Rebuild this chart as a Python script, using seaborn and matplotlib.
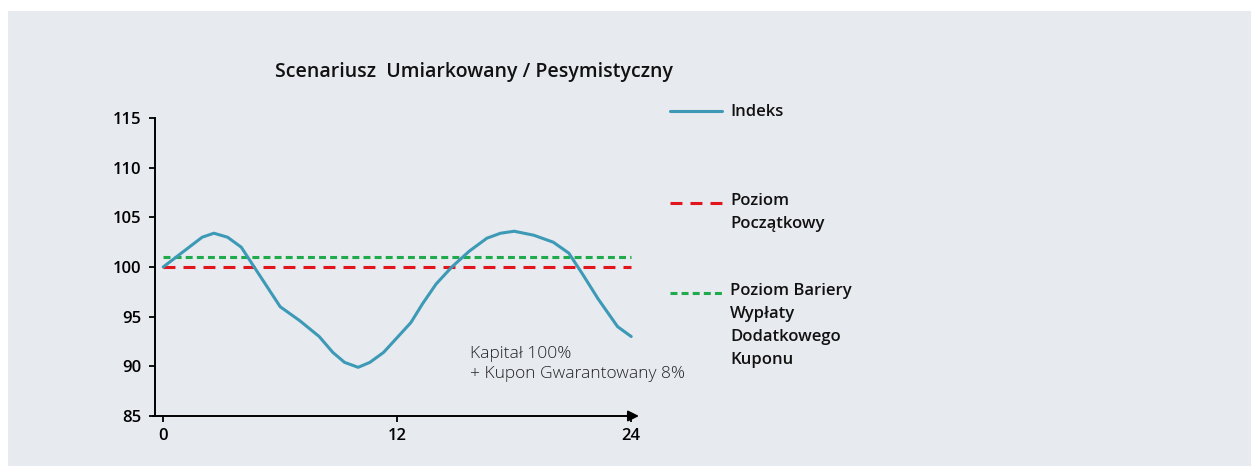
import matplotlib
matplotlib.use("Agg")
import matplotlib.pyplot as plt
from matplotlib.lines import Line2D
from matplotlib.patches import Rectangle
import seaborn as sns
import pandas as pd

# ---- data ----
months = [0, 1, 2, 2.6, 3.3, 4, 5, 6, 7, 8, 8.7, 9.3, 10, 10.6, 11.3, 12,
          12.7, 13.3, 14, 14.8, 15.7, 16.6, 17.3, 18, 19, 20, 20.8, 21.5,
          22.3, 23.3, 24]
index_values = [100, 101.5, 103, 103.4, 103, 102, 99, 96, 94.6, 93, 91.4,
                90.4, 89.9, 90.4, 91.4, 92.9, 94.4, 96.3, 98.3, 100, 101.6,
                102.9, 103.4, 103.6, 103.2, 102.5, 101.4, 99.3, 96.8, 94, 93]
level_x = [0, 24]
initial_level = [100, 100]
barrier_level = [101, 101]
x_ticks = [0, 12, 24]
y_ticks = [85, 90, 95, 100, 105, 110, 115]
title = "Scenariusz  Umiarkowany / Pesymistyczny"
legend_labels = ["Indeks", "Poziom\nPoczątkowy",
                 "Poziom Bariery\nWypłaty\nDodatkowego\nKuponu"]
note = "Kapitał 100%\n+ Kupon Gwarantowany 8%"

# ---- style ----
sns.set_theme(style="white")
plt.rcParams["font.family"] = ["Open Sans", "DejaVu Sans"]
plt.rcParams["lines.scale_dashes"] = False

BG = "#e7eaef"
TEAL = "#3d9ab6"
RED = "#e3151c"
GREEN = "#1faa4b"
W, H = 1251, 466

fig = plt.figure(figsize=(W / 100, H / 100), dpi=100)
fig.patch.set_facecolor("white")
fig.patches.append(Rectangle((8 / W, 0), 1 - 8 / W, 1 - 11 / H,
                             transform=fig.transFigure, facecolor=BG,
                             edgecolor="none", zorder=-10))

ax = fig.add_axes([155 / W, 1 - 416 / H, 484 / W, (416 - 118) / H])
ax.set_facecolor("none")

df = pd.DataFrame({"m": months, "v": index_values})
lv = pd.DataFrame({"m": level_x, "init": initial_level, "bar": barrier_level})

sns.lineplot(data=lv, x="m", y="init", ax=ax, color=RED, linewidth=2.2,
             zorder=2)
ax.lines[-1].set_dashes((8.6, 5.8))
sns.lineplot(data=lv, x="m", y="bar", ax=ax, color=GREEN, linewidth=2.2,
             zorder=2)
ax.lines[-1].set_dashes((5.0, 3.0))
sns.lineplot(data=df, x="m", y="v", ax=ax, color=TEAL, linewidth=2.2,
             zorder=3)

ax.set_xlim(-0.42, 24.4)
ax.set_ylim(85, 115)
ax.set_xticks(x_ticks)
ax.set_yticks(y_ticks)
ax.set_xlabel("")
ax.set_ylabel("")
for s in ["top", "right", "bottom"]:
    ax.spines[s].set_visible(False)
ax.spines["left"].set_linewidth(1.4)
ax.spines["left"].set_color("black")
ax.tick_params(axis="y", direction="out", length=4, width=1.3, pad=6,
               labelsize=12, colors="black", left=True)
ax.tick_params(axis="x", direction="out", length=4, width=1.3, pad=5,
               labelsize=12, colors="black", bottom=True)
for lab in ax.get_xticklabels() + ax.get_yticklabels():
    lab.set_fontweight("semibold")

ax.annotate("", xy=(1.0, 0), xytext=(-0.005, 0), xycoords="axes fraction",
            textcoords="axes fraction",
            arrowprops=dict(arrowstyle="-|>", color="black", lw=1.4,
                            mutation_scale=16, shrinkA=0, shrinkB=0))

ax.text(15.75, 90.25, note, fontsize=12.5, color="#222222", va="center",
        ha="left", linespacing=1.28, fontweight="light")

fig.text(474 / W, 1 - 72 / H, title, ha="center", va="center",
         fontsize=14, fontweight="semibold", color="#111111")

# legend (manual, handles aligned with first line of label)
handles = [(TEAL, None, 111, 111), (RED, (8.6, 5.8), 203, 200),
           (GREEN, (5.0, 3.0), 293, 290)]
for (col, dash, yy, ty), lab in zip(handles, legend_labels):
    ln = Line2D([670 / W, 722 / W], [1 - yy / H, 1 - yy / H],
                transform=fig.transFigure, color=col, linewidth=2.2)
    if dash:
        ln.set_dashes(dash)
    fig.add_artist(ln)
    fig.text(730 / W, 1 - (ty - 7) / H, lab, ha="left", va="top",
             fontsize=12, fontweight="semibold", color="#111111",
             linespacing=1.58)

fig.savefig("out.png", dpi=100, facecolor="white")
